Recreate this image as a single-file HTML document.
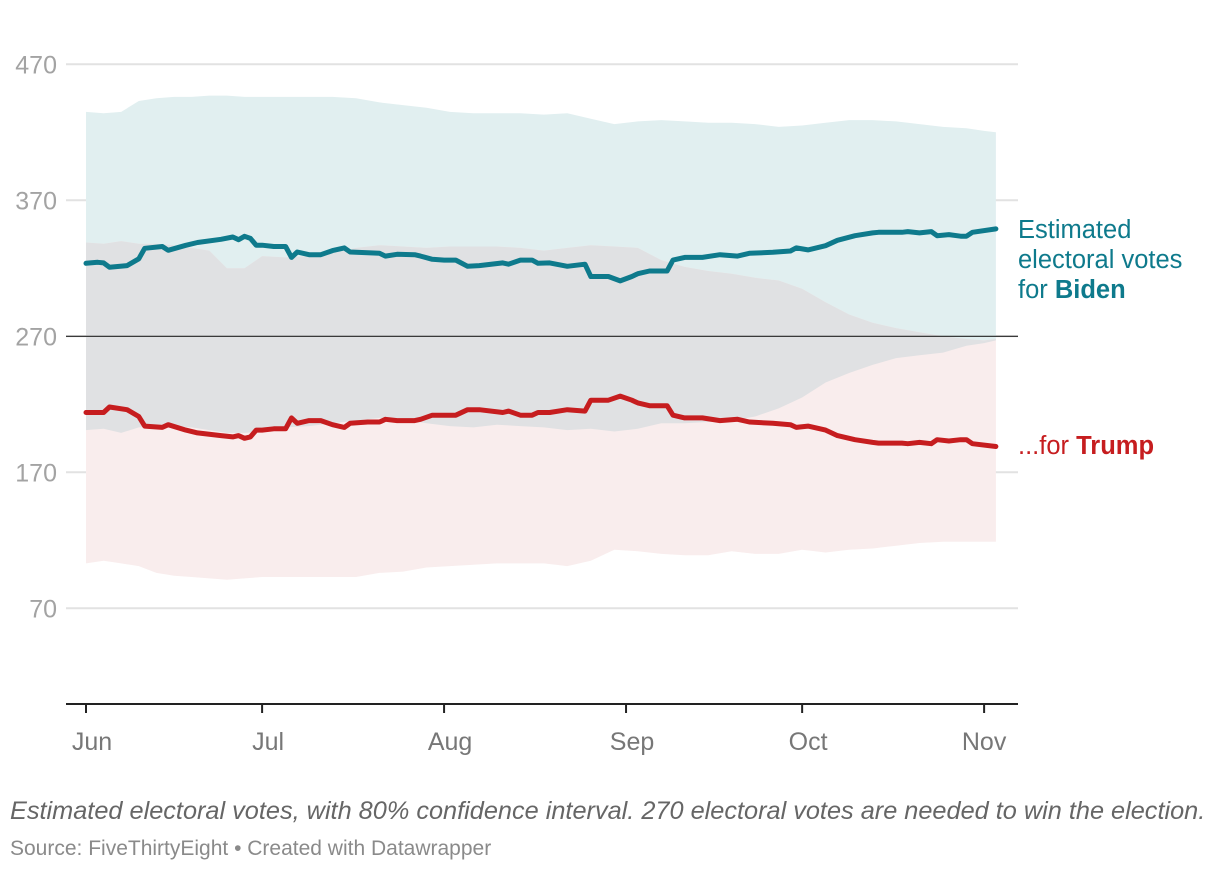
<!DOCTYPE html>
<html><head><meta charset="utf-8"><style>
body{margin:0;background:#fff;width:1220px;height:872px;overflow:hidden;font-family:"Liberation Sans",sans-serif}
svg{position:absolute;left:0;top:0}
</style></head><body>
<svg id="chart" width="1220" height="872" xmlns="http://www.w3.org/2000/svg"></svg>
<script>
const yTicks=[70,170,270,370,470];
const monthLabels=["Jun","Jul","Aug","Sep","Oct","Nov"];
const monthDays=[0,30,61,92,122,153];
const bandDays=[0,3,6,9,12,15,18,21,24,27,30,34,38,42,46,50,54,58,62,66,70,74,78,82,86,90,94,98,102,106,110,114,118,122,126,130,134,138,142,146,150,153,155];
const bidenHigh=[435,434,435,443,445,446,446,447,447,446,446,446,446,446,445,442,440,438,435,434,434,434,433,434,430,426,428,429,428,427,427,426,424,425,427,429,429,428,426,424,423,421,420];
const bidenLow=[201,202,199,203,204,204,203,201,199,199,200,203,204,206,208,210,209,206,204,203,205,204,203,201,202,200,202,206,206,207,208,211,217,225,236,243,249,254,256,258,263,265,267];
const trumpHigh=[339,338,340,338,338,337,335,333,320,320,329,328,329,331,335,337,336,335,336,336,336,335,333,335,337,336,335,326,321,318,316,313,311,305,295,286,280,276,273,270,268,267,268];
const trumpLow=[103,105,103,101,96,94,93,92,91,92,93,93,93,93,93,96,97,100,101,102,103,103,103,101,105,113,112,110,109,109,112,110,110,113,111,113,114,116,118,119,119,119,119];
const lineDays=[0,2,3,4,7,9,10,13,14,17,19,23,25,26,27,28,29,30,32,34,35,36,38,40,42,44,45,48,50,51,53,56,57,59,61,63,65,67,71,72,74,76,77,79,82,85,86,89,91,93,94,96,99,100,102,105,108,111,113,117,120,121,123,126,128,131,134,135,139,140,142,144,145,147,149,150,151,155];
const bidenVotes=[323.7,324.4,324,320.7,322,327,334.7,336,333.2,336.9,339,341.3,343,341,343.5,342,337,337,336,336,328,332,330,330,333,335,332,331.4,331,329,330.3,330,329,326.6,326,326,321.5,322,324,323,326,326,323.7,324,321.5,323,314,314,310.7,314,316,318,318,326,328,328,330,329,331,331.8,332.7,335,333.5,336.6,340.6,344,346,346.5,346.5,347,346,347,344,344.8,343.6,343.6,346.5,349];
const trumpVotes=[214,214,214,218,216,211,204,203,205,201,199,197,196,197,195,196,201,201,202,202,210,206,208,208,205,203,206,207,207,209,208,208,209,212,212,212,216,216,214,215,212,212,214,214,216,215,223,223,226,223,221,219,219,212,210,210,208,209,207,206,205,203,204,201,197,194,192,191.5,191.5,191,192,191,194,193,194,194,191,189];

const NS="http://www.w3.org/2000/svg";
const svg=document.getElementById('chart');
const X=d=>86+d*5.87;
const Y=v=>703.5-v*1.36;
function el(tag,attrs,parent){const e=document.createElementNS(NS,tag);for(const k in attrs)e.setAttribute(k,attrs[k]);(parent||svg).appendChild(e);return e;}
function areaPath(hi,lo){let p='M'+bandDays.map((d,i)=>X(d).toFixed(1)+','+Y(hi[i]).toFixed(1)).join('L');
for(let i=bandDays.length-1;i>=0;i--)p+='L'+X(bandDays[i]).toFixed(1)+','+Y(lo[i]).toFixed(1);return p+'Z';}
function linePath(vals){return 'M'+lineDays.map((d,i)=>X(d).toFixed(1)+','+Y(vals[i]).toFixed(1)).join('L');}

yTicks.forEach(t=>{
  const g=el('line',{x1:66,x2:1018,y1:Y(t),y2:Y(t),stroke:'#e2e2e2','stroke-width':2});
  
  
  const tx=el('text',{x:57,y:Y(t)+9,'text-anchor':'end','font-size':25,fill:'#a3a3a3'});
  tx.textContent=t;
  
  
});
const defs=el('defs',{});
const cp=el('clipPath',{id:'bclip'},defs);
el('path',{d:areaPath(bidenHigh,bidenLow)},cp);
const bb=el('path',{d:areaPath(bidenHigh,bidenLow),fill:'#e1eff0'});


const tb=el('path',{d:areaPath(trumpHigh,trumpLow),fill:'#f9eded'});


const ob=el('path',{d:areaPath(trumpHigh,trumpLow),fill:'#e0e1e3','clip-path':'url(#bclip)'});


const ref=el('line',{x1:66,x2:1018,y1:Y(270),y2:Y(270),stroke:'#222','stroke-width':1.2});


const bl=el('path',{d:linePath(bidenVotes),fill:'none',stroke:'#0e7a8c','stroke-width':5,'stroke-linejoin':'round','stroke-linecap':'round'});


const tl=el('path',{d:linePath(trumpVotes),fill:'none',stroke:'#c61d1f','stroke-width':5,'stroke-linejoin':'round','stroke-linecap':'round'});


const ax=el('line',{x1:66,x2:1018,y1:704,y2:704,stroke:'#222','stroke-width':2});


monthDays.forEach((d,i)=>{
  const tk=el('line',{x1:X(d),x2:X(d),y1:704,y2:713,stroke:'#222','stroke-width':2});
  
  
  const t=el('text',{x:X(d)+(i==5?0:6),y:750,'text-anchor':'middle','font-size':25,fill:'#777'});
  t.textContent=monthLabels[i];
  
  
});
</script>
<svg width="1220" height="872" xmlns="http://www.w3.org/2000/svg" style="pointer-events:none">
<g font-size="25.5" fill="#0e7a8c">
<text x="1018" y="238">Estimated</text>
<text x="1018" y="268">electoral votes</text>
<text x="1018" y="298">for <tspan font-weight="bold">Biden</tspan></text>
</g>
<text x="1018" y="454" font-size="25.5" fill="#c61d1f">...for <tspan font-weight="bold">Trump</tspan></text>
<text x="10" y="819" font-size="25.3" font-style="italic" fill="#666">Estimated electoral votes, with 80% confidence interval. 270 electoral votes are needed to win the election.</text>
<text x="10" y="855" font-size="21" fill="#8a8a8a">Source: FiveThirtyEight • Created with Datawrapper</text>
</svg>
</body></html>
